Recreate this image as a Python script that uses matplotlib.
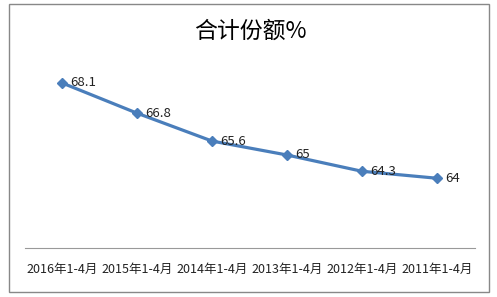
import matplotlib.pyplot as plt
from matplotlib.patches import Rectangle

plt.rcParams['font.family'] = ['Noto Sans CJK SC', 'DejaVu Sans']

categories = ['2016年1-4月', '2015年1-4月', '2014年1-4月',
              '2013年1-4月', '2012年1-4月', '2011年1-4月']
values = [68.1, 66.8, 65.6, 65, 64.3, 64]
labels = ['68.1', '66.8', '65.6', '65', '64.3', '64']

fig = plt.figure(figsize=(4.97, 2.97), dpi=100)
ax = fig.add_axes([24.5 / 497, 1 - 248 / 297, 450 / 497, 186 / 297])

# outer chart border
fig.patches.append(Rectangle((9 / 497, 1 - 292 / 297), 480 / 497, 288 / 297,
                             transform=fig.transFigure, fill=False,
                             edgecolor='#888888', linewidth=1))

x = range(len(values))
ax.plot(x, values, color='#4A7EBB', linewidth=2.3, marker='D', markersize=5.5)
for i, (v, t) in enumerate(zip(values, labels)):
    ax.annotate(t, (i, v), xytext=(6, 0), textcoords='offset points',
                va='center', ha='left', fontsize=9.5, color='#222222')

ax.set_xlim(-0.5, len(values) - 0.5)
ax.set_ylim(61, 69)
ax.set_yticks([])
ax.set_xticks(list(x))
ax.set_xticklabels(categories, fontsize=9, color='#222222')
ax.tick_params(axis='x', length=0, pad=11)
for s in ['top', 'right', 'left']:
    ax.spines[s].set_visible(False)
ax.spines['bottom'].set_color('#999999')

fig.text(0.503, 1 - 31 / 297, '合计份额%', ha='center', va='center', fontsize=16.5)

plt.savefig('out.png', dpi=100)
